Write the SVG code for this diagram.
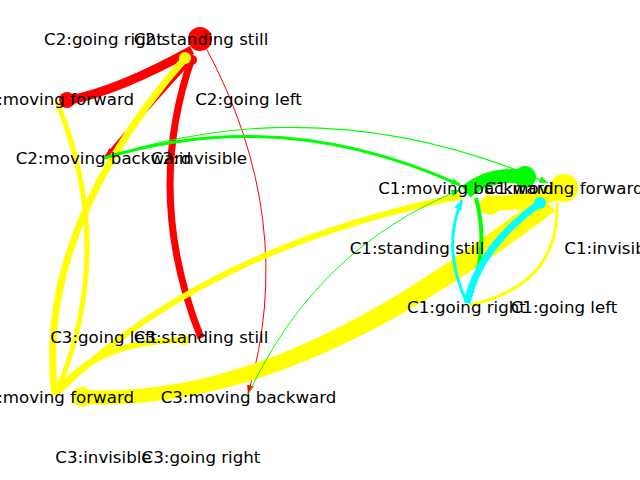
<svg xmlns="http://www.w3.org/2000/svg" width="640" height="480" viewBox="0 0 640 480">
<defs>
<style>
.e{fill:none;stroke-linecap:butt}
.r{stroke:#ff0000}.y{stroke:#ffff00}.g{stroke:#00ff00}.c{stroke:#00ffff}
.lbl{font-family:"DejaVu Sans","Liberation Sans",sans-serif;font-size:16.67px;fill:#000;text-anchor:middle}
</style>
<marker id="mr" viewBox="0 0 10 8" refX="10" refY="4" markerWidth="9" markerHeight="7" markerUnits="userSpaceOnUse" orient="auto"><path d="M0,0L10,4L0,8z" fill="#ff0000"/></marker>
<marker id="mg" viewBox="0 0 10 8" refX="10" refY="4" markerWidth="9" markerHeight="7" markerUnits="userSpaceOnUse" orient="auto"><path d="M0,0L10,4L0,8z" fill="#00ff00"/></marker>
<marker id="mc" viewBox="0 0 10 8" refX="10" refY="4" markerWidth="10" markerHeight="8" markerUnits="userSpaceOnUse" orient="auto"><path d="M0,0L10,4L0,8z" fill="#00ffff"/></marker>
</defs>
<g id="edges">
<!-- red (C2) -->
<path class="e r" d="M192,50 Q120,90 70,100" stroke-width="9"/>
<circle cx="67" cy="100" r="8" fill="#ff0000"/>
<path class="e r" d="M193,58 Q152,102 106,157" stroke-width="4" marker-end="url(#mr)"/>
<path class="e r" d="M201,338 Q144,195 192,58" stroke-width="7"/>
<circle cx="192" cy="60" r="5" fill="#ff0000"/>
<path class="e r" d="M205,46 Q299,220 248,394" stroke-width="1" marker-end="url(#mr)"/>
<circle cx="200" cy="39" r="12" fill="#ff0000"/>
<!-- yellow (C3) -->
<path class="e y" d="M57,102 Q117,248 57,392" stroke-width="5"/>
<path class="e y" d="M55,395 Q35,232 186,57" stroke-width="7"/>
<circle cx="185" cy="58" r="6" fill="#ffff00"/>
<path class="e y" d="M55,395 Q95,340 186,340" stroke-width="6"/>
<circle cx="184" cy="340" r="5" fill="#ffff00"/>
<path class="e y" d="M55,395 Q201,248 462,196" stroke-width="6"/>
<path d="M82,390 C260,398 414,291 541,195 L555,211 C426,309 260,412 82,404 Z" fill="#ffff00"/>
<circle cx="82" cy="397" r="10" fill="#ffff00"/>
<path class="e y" d="M560,192 Q520,205 485,203" stroke-width="15"/>
<circle cx="490" cy="205" r="10" fill="#ffff00"/>
<circle cx="564" cy="188" r="14" fill="#ffff00"/>
<path class="e y" d="M557,203 Q560,285 470,305" stroke-width="3"/>
<!-- green (C1) -->
<path class="e g" d="M104,158 Q282,104 460,185" stroke-width="3" marker-end="url(#mg)"/>
<path class="e g" d="M104,158 Q326,86 548,183" stroke-width="1.2" marker-end="url(#mg)"/>
<path class="e g" d="M248,395 Q316,248 460,190" stroke-width="1" marker-end="url(#mg)"/>
<path class="e g" d="M466,192 Q490,172 525,177" stroke-width="14"/>
<circle cx="525" cy="177" r="11" fill="#00ff00"/>
<path class="e g" d="M476,198 Q490,251 468,298" stroke-width="4" marker-end="url(#mg)"/>
<!-- cyan -->
<path class="e c" d="M467,303 Q479,247 540,203" stroke-width="7"/>
<circle cx="540" cy="203" r="6" fill="#00ffff"/>
<path class="e c" d="M467,303 Q441,248 462,200" stroke-width="3" marker-end="url(#mc)"/>
</g>
<g id="n-c2-going-right"><text class="lbl" x="103.5" y="45">C2:going right</text></g>
<g id="n-c2-standing-still"><text class="lbl" x="201" y="45">C2:standing still</text></g>
<g id="n-c2-moving-forward"><text class="lbl" x="54.5" y="104.5">C2:moving forward</text></g>
<g id="n-c2-going-left"><text class="lbl" x="248.5" y="104.5">C2:going left</text></g>
<g id="n-c2-moving-backward"><text class="lbl" x="103.5" y="164">C2:moving backward</text></g>
<g id="n-c2-invisible"><text class="lbl" x="199" y="164">C2:invisible</text></g>
<g id="n-c1-moving-backward"><text class="lbl" x="466" y="194">C1:moving backward</text></g>
<g id="n-c1-moving-forward"><text class="lbl" x="564" y="194">C1:moving forward</text></g>
<g id="n-c1-standing-still"><text class="lbl" x="417" y="253.5">C1:standing still</text></g>
<g id="n-c1-invisible"><text class="lbl" x="612.5" y="253.5">C1:invisible</text></g>
<g id="n-c1-going-right"><text class="lbl" x="466.5" y="313">C1:going right</text></g>
<g id="n-c1-going-left"><text class="lbl" x="564" y="313">C1:going left</text></g>
<g id="n-c3-going-left"><text class="lbl" x="103.5" y="343">C3:going left</text></g>
<g id="n-c3-standing-still"><text class="lbl" x="201" y="343">C3:standing still</text></g>
<g id="n-c3-moving-forward"><text class="lbl" x="54.5" y="403">C3:moving forward</text></g>
<g id="n-c3-moving-backward"><text class="lbl" x="248.5" y="403">C3:moving backward</text></g>
<g id="n-c3-invisible"><text class="lbl" x="103.5" y="462.5">C3:invisible</text></g>
<g id="n-c3-going-right"><text class="lbl" x="201" y="462.5">C3:going right</text></g>
</svg>
